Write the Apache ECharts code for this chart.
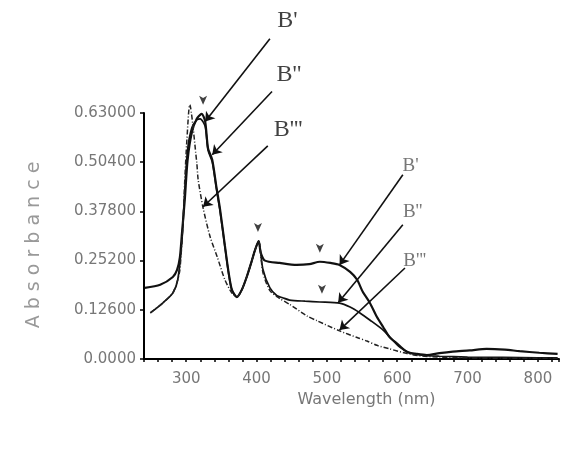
<!DOCTYPE html>
<html><head><meta charset="utf-8">
<script src="https://cdn.jsdelivr.net/npm/echarts@6/dist/echarts.min.js"></script>
<style>html,body{margin:0;padding:0;background:#fff}#c{width:586px;height:453px}</style>
</head><body><div id="c"></div>
<script>
// ---- data ----
const b1Wavelength = [241,263,281,287,291,294,298,302,308,315,322,327,331,337,343,348,355,360,365,372,379,386,393,398,403,406,412,433,457,475,490,505,518,533,543,551,561,571,580,589,599,614,628,642,660,679,703,727,753,774,802,828];
const b1Absorbance = [0.182,0.19,0.21,0.228,0.26,0.323,0.408,0.51,0.58,0.615,0.628,0.608,0.54,0.51,0.44,0.385,0.29,0.225,0.177,0.159,0.177,0.21,0.25,0.28,0.302,0.272,0.252,0.246,0.241,0.243,0.249,0.246,0.241,0.223,0.203,0.172,0.144,0.108,0.082,0.056,0.041,0.018,0.013,0.01,0.015,0.019,0.022,0.026,0.024,0.02,0.016,0.013];

const b2Wavelength = [249,267,281,288,294,298,302,308,315,320,327,331,337,343,348,355,360,365,372,379,386,393,398,403,409,419,429,437,447,469,490,518,533,547,561,580,594,604,618,639,660,700,750,800,828];
const b2Absorbance = [0.118,0.144,0.169,0.203,0.305,0.433,0.536,0.592,0.612,0.615,0.595,0.535,0.505,0.435,0.38,0.288,0.222,0.176,0.158,0.177,0.21,0.25,0.28,0.302,0.23,0.182,0.162,0.157,0.151,0.148,0.146,0.143,0.133,0.118,0.1,0.074,0.048,0.03,0.016,0.009,0.007,0.005,0.004,0.003,0.003];

const b3Wavelength = [249,267,281,288,291,295,298,301,305,315,317,324,334,344,355,365,372,379,386,393,398,403,409,419,433,447,472,486,518,543,557,571,589,614,632,660,700,750,828];
const b3Absorbance = [0.118,0.144,0.169,0.203,0.228,0.331,0.459,0.562,0.651,0.503,0.459,0.387,0.313,0.262,0.203,0.169,0.159,0.177,0.21,0.25,0.28,0.302,0.222,0.175,0.155,0.14,0.11,0.098,0.072,0.055,0.046,0.035,0.026,0.014,0.008,0.005,0.003,0.002,0.002];

const xTickLabels = [300,400,500,600,700,800];
const yTickLabels = ['0.0000','0.12600','0.25200','0.37800','0.50400','0.63000'];
const seriesNames = ["B'", "B''", "B'''"];

// small arrow marks drawn on the curves (wavelength, absorbance)
const pointerMarks = [[324,0.651],[402,0.325],[490,0.272],[493,0.167]];

// annotation leader lines: [from, to] in data units
const uvArrows = [[[419,0.82],[327,0.608]], [[422,0.685],[337,0.523]], [[416,0.546],[324,0.39]]];
const uvLabelAt = [[444,0.867],[446,0.728],[445,0.587]];
const visArrows = [[[608,0.472],[518,0.241]], [[608,0.344],[516,0.144]], [[611,0.233],[518,0.074]]];
const visLabelAt = [[619,0.495],[622,0.377],[625,0.251]];

// ---- chart ----
const zip = (xs, ys) => xs.map((x, i) => [x, ys[i]]);
const chart = echarts.init(document.getElementById('c'), null, {renderer: 'canvas'});
const ink = '#111';
const lineBase = {type: 'line', showSymbol: false, smooth: 0.25, clip: false, silent: true, z: 3};

chart.setOption({
  animation: false,
  backgroundColor: '#fff',
  grid: {left: 144, right: 27, top: 113, bottom: 94, containLabel: false},
  xAxis: {
    type: 'value', min: 240, max: 830, interval: 20,
    name: 'Wavelength (nm)', nameLocation: 'middle', nameGap: 31,
    nameTextStyle: {fontFamily: 'DejaVu Sans', fontSize: 16, color: '#777', padding: [0, 0, 0, 30]},
    axisLine: {show: true, lineStyle: {color: '#000', width: 2}},
    axisTick: {show: true, length: 3, lineStyle: {color: '#000', width: 1.5}},
    axisLabel: {
      margin: 13, fontFamily: 'DejaVu Sans', fontSize: 15, color: '#777',
      formatter: v => (xTickLabels.indexOf(v) >= 0 ? String(v) : '')
    },
    splitLine: {show: false}
  },
  yAxis: {
    type: 'value', min: 0, max: 0.63, interval: 0.126,
    name: 'A b s o r b a n c e', nameLocation: 'middle', nameGap: 100, nameRotate: 90,
    nameTextStyle: {fontFamily: 'DejaVu Sans', fontSize: 19, color: '#999', padding: [0, 18, 0, 0]},
    axisLine: {show: true, lineStyle: {color: '#000', width: 2}},
    axisTick: {show: true, length: 4, lineStyle: {color: '#000', width: 1.5}},
    axisLabel: {
      margin: 8, fontFamily: 'DejaVu Sans', fontSize: 15, color: '#777',
      formatter: v => yTickLabels[Math.round(v / 0.126)]
    },
    splitLine: {show: false}
  },
  series: [
    Object.assign({}, lineBase, {name: seriesNames[0], data: zip(b1Wavelength, b1Absorbance),
      lineStyle: {color: ink, width: 2.2}}),
    Object.assign({}, lineBase, {name: seriesNames[1], data: zip(b2Wavelength, b2Absorbance),
      lineStyle: {color: ink, width: 1.7}}),
    Object.assign({}, lineBase, {name: seriesNames[2], data: zip(b3Wavelength, b3Absorbance),
      lineStyle: {color: '#222', width: 1.5, type: [5, 2, 1, 2]}}),
    {
      type: 'scatter', data: pointerMarks, clip: false, silent: true, z: 4,
      symbol: 'arrow', symbolRotate: 180, symbolSize: [6, 9],
      itemStyle: {color: ink}
    },
    {
      type: 'lines', coordinateSystem: 'cartesian2d', clip: false, silent: true, z: 4,
      data: uvArrows.concat(visArrows).map(c => ({coords: c})),
      symbol: ['none', 'arrow'], symbolSize: 9,
      lineStyle: {color: ink, width: 1.6, opacity: 1, curveness: 0}
    },
    {
      type: 'scatter', clip: false, silent: true, symbolSize: 0, z: 5,
      data: uvLabelAt.map((p, i) => ({value: p, name: seriesNames[i]})),
      label: {show: true, position: 'inside', formatter: '{b}',
        fontFamily: 'Liberation Serif', fontSize: 24, color: '#111'}
    },
    {
      type: 'scatter', clip: false, silent: true, symbolSize: 0, z: 5,
      data: visLabelAt.map((p, i) => ({value: p, name: seriesNames[i]})),
      label: {show: true, position: 'inside', formatter: '{b}',
        fontFamily: 'Liberation Serif', fontSize: 19, color: '#555'}
    }
  ]
});
</script>
</body></html>
